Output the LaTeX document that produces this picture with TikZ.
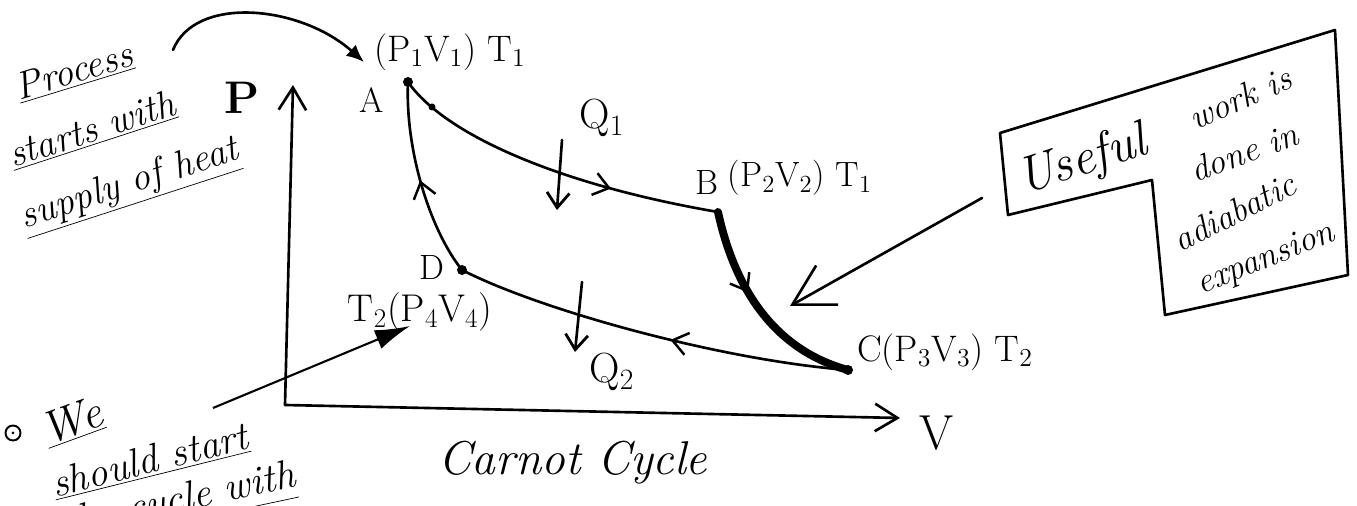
\documentclass[tikz,border=0pt]{standalone}
\usetikzlibrary{arrows.meta,decorations.markings}
\begin{document}
\begin{tikzpicture}[x=0.02cm,y=-0.02cm,
  stroke/.style={line width=1.5pt,line cap=round,line join=round},
  lbl/.style={font=\fontsize{20}{24}\selectfont, inner sep=1pt},
  note/.style={font=\fontsize{22}{26}\selectfont\itshape, inner sep=1pt},
  boxnote/.style={font=\fontsize{20}{24}\selectfont\itshape, inner sep=0.5pt},
  bignote/.style={font=\fontsize{27}{30}\selectfont\itshape, inner sep=1pt},
  axis/.style={stroke,-{Straight Barb[length=0.45cm,width=0.55cm,line width=1.5pt]}},
  downarrow/.style={stroke,-{Straight Barb[length=0.3cm,width=0.45cm,line width=1.6pt]}},
  ptdot/.style={circle,fill,inner sep=0pt,minimum size=0.2cm},
  midarrow/.style={postaction={decorate},decoration={markings,mark=at position #1 with {\arrow{Straight Barb[length=0.3cm,width=0.45cm,line width=1.4pt]}}}},
]
\useasboundingbox (0,0) rectangle (1357,506);

% axes
\coordinate (O) at (285,405);
\coordinate (Ptop) at (293,85);
\coordinate (Vend) at (900,418);
\draw[axis] (O) -- (Ptop);
\draw[axis] (O) -- (Vend);
\node[lbl,font=\fontsize{26}{30}\selectfont\bfseries] (Plab) at (242,98) {P};
\node[lbl,font=\fontsize{28}{30}\selectfont] (Vlab) at (937,433) {V};

% cycle
\coordinate (A) at (408,82);
\coordinate (B) at (718,212);
\coordinate (C) at (848,370);
\coordinate (D) at (462,270);
\draw[stroke,midarrow=0.68] (A) .. controls (445,135) and (560,185) .. (B);
\draw[line width=4.5pt,line cap=round,midarrow=0.4] (B) .. controls (735,290) and (775,350) .. (C);
\draw[stroke,midarrow=0.45] (C) .. controls (720,360) and (540,310) .. (D);
\draw[stroke,midarrow=0.5] (D) .. controls (430,230) and (405,150) .. (A);
\node[ptdot] (Adot) at (A) {};
\node[ptdot] (Ddot) at (D) {};
\node[ptdot] (Cdot) at (C) {};
\node[ptdot,minimum size=0.14cm] (ABdot) at (432,107) {};

% labels
\node[lbl] (Alab) at (372,100) {A};
\node[lbl,font=\fontsize{21}{24}\selectfont] (P1) at (450,52) {(P\textsubscript{1}V\textsubscript{1})\ T\textsubscript{1}};
\node[lbl,font=\fontsize{24}{28}\selectfont] (Q1) at (602,118) {Q\textsubscript{1}};
\coordinate (q1s) at (562,140);
\coordinate (q1e) at (557,210);
\draw[downarrow] (q1s) -- (q1e);
\node[lbl] (Blab) at (707,183) {B};
\node[lbl] (P2) at (800,178) {(P\textsubscript{2}V\textsubscript{2})\ T\textsubscript{1}};
\node[lbl,font=\fontsize{21}{24}\selectfont] (P3) at (945,352) {C(P\textsubscript{3}V\textsubscript{3})\ T\textsubscript{2}};
\node[lbl,font=\fontsize{24}{28}\selectfont] (Q2) at (612,372) {Q\textsubscript{2}};
\coordinate (q2s) at (582,282);
\coordinate (q2e) at (575,352);
\draw[downarrow] (q2s) -- (q2e);
\node[lbl] (Dlab) at (432,268) {D};
\node[lbl,font=\fontsize{22}{26}\selectfont] (P4) at (420,312) {T\textsubscript{2}(P\textsubscript{4}V\textsubscript{4})};

% left notes
\node[note,rotate=17] (n1) at (74,72) {\underline{Process}};
\node[note,rotate=18] (n2) at (92,130) {\underline{starts with}};
\node[note,rotate=18] (n3) at (130,186) {\underline{supply of heat}};
\coordinate (c1) at (173,50);
\coordinate (Atip) at (364,62);
\draw[stroke,-{Latex[length=0.35cm,width=0.3cm]}] (c1) .. controls (195,-5) and (300,5) .. (Atip);

% bottom notes
\node[circle,draw,line width=1.1pt,minimum size=0.3cm,inner sep=0pt] (bul) at (13,433) {};
\node[circle,fill,inner sep=0pt,minimum size=0.06cm] (buldot) at (bul) {};
\node[note,font=\fontsize{26}{30}\selectfont\itshape,rotate=20] (w) at (72,422) {\underline{We}};
\node[note,font=\fontsize{23}{26}\selectfont\itshape,rotate=14] (s) at (150,461) {\underline{should start}};
\node[note,font=\fontsize{23}{26}\selectfont\itshape,rotate=12] (t) at (180,503) {\underline{the cycle with}};
\coordinate (ws) at (213,408);
\coordinate (wt) at (410,326);
\draw[line width=1.2pt,-{Latex[length=0.7cm,width=0.4cm]}] (ws) -- (wt);

% title
\node[bignote] (title) at (573,463) {Carnot Cycle};

% box
\draw[stroke] (1000,133) -- (1335,30) -- (1348,275) -- (1165,315) -- (1152,180) -- (1008,215) -- cycle;
\node[bignote,font=\fontsize{29}{32}\selectfont\itshape,rotate=18] (u1) at (1083,162) {Useful};
\node[boxnote,rotate=24] (u2) at (1240,98) {work is};
\node[boxnote,rotate=20] (u3) at (1244,152) {done in};
\node[boxnote,rotate=27] (u4) at (1234,212) {adiabatic};
\node[boxnote,rotate=22] (u5) at (1266,260) {expansion};
\coordinate (bx) at (982,198);
\coordinate (btip) at (790,306);
\draw[stroke,-{Straight Barb[length=0.8cm,width=0.9cm,line width=1.5pt]}] (bx) -- (btip);
\end{tikzpicture}
\end{document}
